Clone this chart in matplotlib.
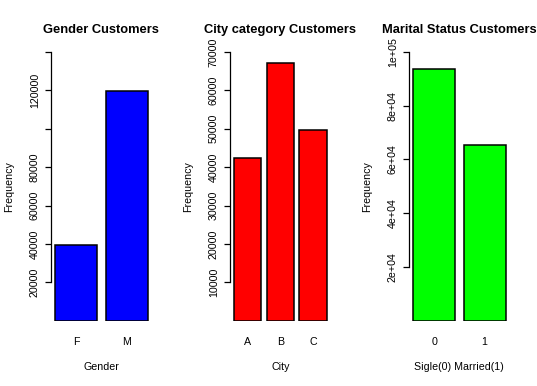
import matplotlib
matplotlib.use('Agg')
import matplotlib.pyplot as plt

plt.rcParams['font.family'] = ['Liberation Sans', 'DejaVu Sans']

# data
gender_cats = ['F', 'M']
gender_counts = [39300, 119800]
city_cats = ['A', 'B', 'C']
city_counts = [42300, 67100, 49600]
marital_cats = ['0', '1']
marital_counts = [93700, 65400]

gender_ticks = [20000, 40000, 60000, 80000, 100000, 120000, 140000]
gender_ticklabels = ['20000', '40000', '60000', '80000', '', '120000', '']
city_ticks = [10000, 20000, 30000, 40000, 50000, 60000, 70000]
city_ticklabels = ['10000', '20000', '30000', '40000', '50000', '60000', '70000']
marital_ticks = [20000, 40000, 60000, 80000, 100000]
marital_ticklabels = ['2e+04', '4e+04', '6e+04', '8e+04', '1e+05']

W, H = 537, 386
fig = plt.figure(figsize=(W / 100, H / 100), dpi=100)

panels = [
    ('Gender Customers', 'Gender', gender_cats, gender_counts, 'blue',
     140000, gender_ticks, gender_ticklabels),
    ('City category Customers', 'City', city_cats, city_counts, 'red',
     70000, city_ticks, city_ticklabels),
    ('Marital Status Customers', 'Sigle(0) Married(1)', marital_cats, marital_counts, '#00ff00',
     100000, marital_ticks, marital_ticklabels),
]

fs = 7.7
top_px, bot_px, width_px = 52, 320.7, 100.1

for i, (title, xlab, cats, vals, col, ymax, ticks, tlabels) in enumerate(panels):
    left_px = 51.3 + 179 * i
    ax = fig.add_axes([left_px / W, (H - bot_px) / H, width_px / W, (bot_px - top_px) / H])
    n = len(cats)
    # R barplot layout: width 1, space 0.2
    pos = [0.2 + k * 1.2 + 0.5 for k in range(n)]
    ax.bar(pos, vals, width=1.0, color=col, edgecolor='black', linewidth=1.1)
    xr = 0.2 + (n - 1) * 1.2 + 1.0
    ext = (xr - 0.2) * 0.04
    ax.set_xlim(0.2 - ext, xr + ext)
    ax.set_ylim(0, ymax)

    for s in ['top', 'right', 'bottom']:
        ax.spines[s].set_visible(False)
    ax.spines['left'].set_bounds(ticks[0], ticks[-1])
    ax.spines['left'].set_linewidth(0.9)

    ax.set_yticks(ticks)
    ax.set_yticklabels(tlabels, rotation=90, va='center', fontsize=fs)
    ax.tick_params(axis='y', length=4.3, width=0.9, pad=4)
    ax.set_xticks(pos)
    ax.set_xticklabels(cats, fontsize=fs)
    ax.tick_params(axis='x', length=0, pad=11.5)

    cx = left_px + width_px / 2
    fig.text(cx / W, 1 - 33 / H, title, ha='center', va='baseline',
             fontsize=fs * 1.2, fontweight='bold')
    fig.text(cx / W, 1 - 370 / H, xlab, ha='center', va='baseline', fontsize=fs)
    fig.text((left_px - 39) / W, 1 - ((top_px + bot_px) / 2) / H, 'Frequency',
             rotation=90, rotation_mode='anchor', ha='center', va='baseline', fontsize=fs)

fig.savefig('out.png', dpi=100)
